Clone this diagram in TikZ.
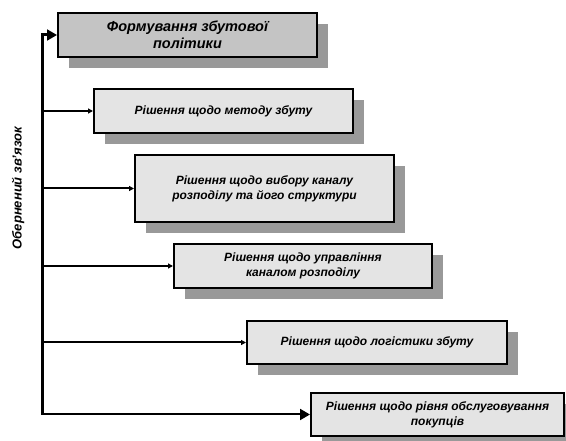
\documentclass[tikz,border=0pt]{standalone}
\usepackage{fontspec}
\setmainfont{Liberation Sans}
\usetikzlibrary{shadows,arrows.meta}
\begin{document}
\begin{tikzpicture}[x=1pt,y=-1pt,
  decision/.style={draw=black, line width=2pt, fill={rgb,255:red,228;green,228;blue,228},
    align=center, inner sep=0pt, font=\fontsize{12}{15}\selectfont\bfseries\itshape,
    drop shadow={shadow xshift=11pt, shadow yshift=-11pt, opacity=1,
      fill={rgb,255:red,153;green,153;blue,153}}},
  headbox/.style={decision, fill={rgb,255:red,196;green,196;blue,196},
    font=\fontsize{14.5}{16.5}\selectfont\bfseries\itshape},
  trunk/.style={line width=3pt},
  branch/.style={line width=2pt, -{Triangle[length=5pt,width=5pt]}},
  bigbranch/.style={line width=2pt, -{Triangle[length=10pt,width=11pt]}},
  feedback/.style={rotate=90, font=\fontsize{13}{15}\selectfont\bfseries\itshape}]
\useasboundingbox (0,0) rectangle (566,441);

\node[headbox, minimum width=259pt, minimum height=44pt] (b1) at (187.5,35)
  {Формування збутової\\політики};
\node[decision, minimum width=259pt, minimum height=44pt] (b2) at (223.5,111)
  {Рішення щодо методу збуту};
\node[decision, minimum width=259pt, minimum height=67pt] (b3) at (264.5,188.5)
  {Рішення щодо вибору каналу\\розподілу та його структури};
\node[decision, minimum width=258pt, minimum height=44pt] (b4) at (303,266)
  {Рішення щодо управління\\каналом розподілу};
\node[decision, minimum width=260pt, minimum height=43pt] (b5) at (377,342.5)
  {Рішення щодо логістики збуту};
\node[decision, minimum width=253pt, minimum height=43pt] (b6) at (437.5,414.5)
  {Рішення щодо рівня обслуговування\\покупців};

\node[feedback] (fbl) at (18,188) {Обернений зв’язок};

% feedback trunk running up to the top box
\coordinate (fb) at (42,415);
\draw[trunk] (fb) |- ([xshift=-10pt]b1.west);
\draw[bigbranch] ([xshift=-11pt]b1.west) -- (b1.west);

% branches to the decision boxes
\draw[branch] (fb |- b2.west) -- (b2.west);
\draw[branch] (fb |- b3.west) -- (b3.west);
\draw[branch] (fb |- b4.west) -- (b4.west);
\draw[branch] (fb |- b5.west) -- (b5.west);
\draw[bigbranch] (fb |- b6.west) -- (b6.west);
\end{tikzpicture}
\end{document}
